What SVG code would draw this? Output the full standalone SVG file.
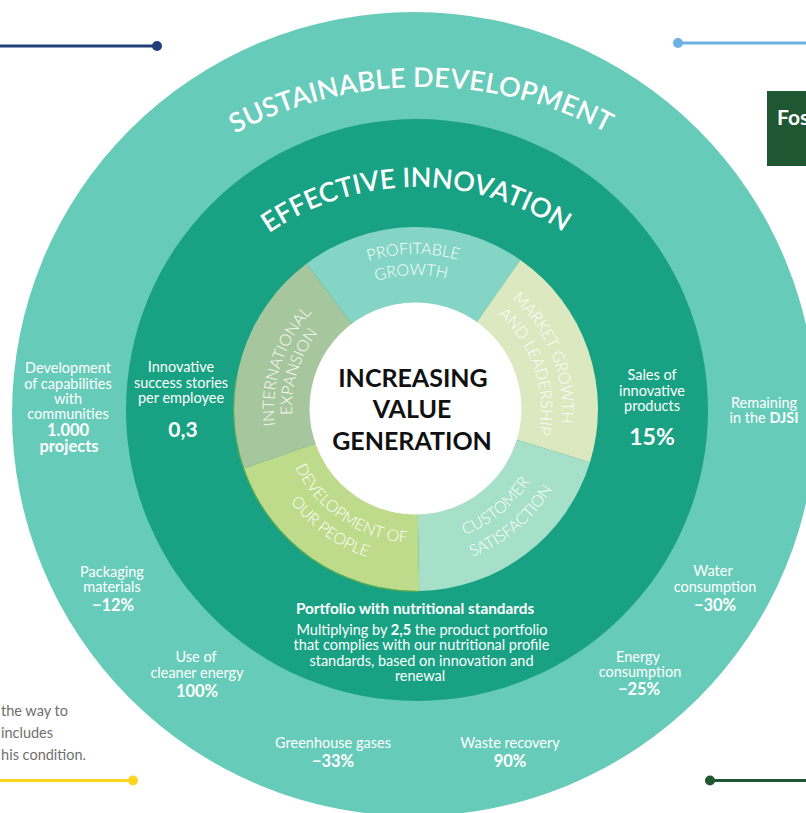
<svg xmlns="http://www.w3.org/2000/svg" width="806" height="813" viewBox="0 0 806 813">
  <style>
    .t { font-family: Lato, "Open Sans", "Liberation Sans", sans-serif; fill: #ffffff; text-anchor: middle; }
    .b { font-size: 14.5px; }
    .num { font-weight: 700; font-size: 16.5px; }
    .big { font-weight: 700; font-size: 21px; }
    .big2 { font-weight: 700; font-size: 23px; }
    .head { font-weight: 700; font-size: 15.3px; }
    .title { font-family: Lato, "Open Sans", sans-serif; fill: #ffffff; font-size: 27px; font-weight: 600; }
    .seg { font-family: Lato, "Open Sans", sans-serif; fill: #ffffff; font-size: 16px; font-weight: 300; }
    .center { font-family: Lato, "Open Sans", sans-serif; fill: #111111; font-size: 25px; font-weight: 700; text-anchor: middle; }
    .gray { font-family: Lato, "Open Sans", sans-serif; fill: #6f6f6f; font-size: 14.5px; }
  </style>
  <defs>
    <path id="arcOuter" d="M117.9,228.8 A397,397 0 0 1 726.1,228.8"/>
    <path id="arcInner" d="M192.7,316.5 A259,259 0 0 1 641.3,316.5"/>
    <path id="pProf" d="M280.4,333.9 A155,155 0 0 1 548.9,329.2"/>
    <path id="pGrowth" d="M297.7,346.1 A134,134 0 0 1 529.6,338.0"/>
    <path id="pMarket" d="M437.1,264.5 A146,146 0 0 1 530.6,499.5"/>
    <path id="pAnd" d="M440.5,286.4 A125,125 0 0 1 509.9,491.5"/>
    <path id="pIntl" d="M310.5,504.0 A142,142 0 0 1 386.5,270.1"/>
    <path id="pExp" d="M324.6,492.8 A124,124 0 0 1 389.2,287.9"/>
    <path id="pCust" d="M368.5,535.4 A135,135 0 0 0 549.2,387.0"/>
    <path id="pSat" d="M362.5,557.7 A158,158 0 0 0 571.5,381.0"/>
    <path id="pDev" d="M282.3,399.6 A134,134 0 0 0 474.7,529.4"/>
    <path id="pOur" d="M260.9,392.7 A156,156 0 0 0 479.4,551.5"/>
  </defs>

  <rect width="806" height="813" fill="#ffffff"/>

  <g id="decor">
    <line x1="0" y1="46" x2="157" y2="46" stroke="#1f3f7a" stroke-width="3"/>
    <circle cx="157" cy="46" r="5" fill="#1f3f7a"/>
    <line x1="678" y1="43" x2="806" y2="43" stroke="#6bb3e3" stroke-width="3"/>
    <circle cx="678" cy="43" r="5" fill="#6bb3e3"/>
    <line x1="0" y1="780.5" x2="133" y2="780.5" stroke="#ffd51f" stroke-width="3"/>
    <circle cx="133" cy="780.5" r="5" fill="#ffd51f"/>
    <line x1="710" y1="780.5" x2="806" y2="780.5" stroke="#1f5733" stroke-width="3"/>
    <circle cx="710" cy="780.5" r="5" fill="#1f5733"/>
  </g>

  <g id="side-note">
    <text class="gray" x="1" y="716">the way to</text>
    <text class="gray" x="1" y="738">includes</text>
    <text class="gray" x="86" y="760" text-anchor="end">his condition.</text>
  </g>

  <g id="sustainable-development">
    <circle cx="414" cy="414" r="402" fill="#67cbb9"/>
    <text class="title" letter-spacing="2"><textPath href="#arcOuter" startOffset="50%" text-anchor="middle" textLength="389" lengthAdjust="spacing">SUSTAINABLE DEVELOPMENT</textPath></text>
  </g>

  <g id="foster-box">
    <rect x="767" y="91" width="39" height="75" fill="#1f5733"/>
    <text x="777" y="125" font-family="Lato, 'Open Sans', sans-serif" font-weight="700" font-size="21" fill="#ffffff">Fos</text>
  </g>

  <g id="effective-innovation">
    <circle cx="417" cy="410" r="291" fill="#18a283"/>
    <text class="title" letter-spacing="2"><textPath href="#arcInner" startOffset="50%" text-anchor="middle" textLength="315" lengthAdjust="spacing">EFFECTIVE INNOVATION</textPath></text>
  </g>

  <g id="segments">
    <g id="seg-profitable">
      <path d="M416,409 L306.5,263.7 A182,182 0 0 1 520.4,259.9 Z" fill="#85d5c6"/>
      <text class="seg"><textPath href="#pProf" startOffset="50%" text-anchor="middle">PROFITABLE</textPath></text>
      <text class="seg"><textPath href="#pGrowth" startOffset="50%" text-anchor="middle">GROWTH</textPath></text>
    </g>
    <g id="seg-market">
      <path d="M416,409 L520.4,259.9 A182,182 0 0 1 590.0,462.2 Z" fill="#dbe8c0"/>
      <text class="seg"><textPath href="#pMarket" startOffset="50%" text-anchor="middle">MARKET GROWTH</textPath></text>
      <text class="seg"><textPath href="#pAnd" startOffset="50%" text-anchor="middle">AND LEADERSHIP</textPath></text>
    </g>
    <g id="seg-customer">
      <path d="M416,409 L590.0,462.2 A182,182 0 0 1 419.2,591.0 Z" fill="#a6e0c9"/>
      <text class="seg"><textPath href="#pCust" startOffset="50%" text-anchor="middle">CUSTOMER</textPath></text>
      <text class="seg"><textPath href="#pSat" startOffset="50%" text-anchor="middle">SATISFACTION</textPath></text>
    </g>
    <g id="seg-development">
      <path d="M416,409 L419.2,591.0 A182,182 0 0 1 243.9,468.3 Z" fill="#bddb8b"/>
      <text class="seg"><textPath href="#pDev" startOffset="50%" text-anchor="middle">DEVELOPMENT OF</textPath></text>
      <text class="seg"><textPath href="#pOur" startOffset="50%" text-anchor="middle">OUR PEOPLE</textPath></text>
    </g>
    <g id="seg-international">
      <path d="M416,409 L243.9,468.3 A182,182 0 0 1 306.5,263.7 Z" fill="#a6c69d"/>
      <text class="seg"><textPath href="#pIntl" startOffset="50%" text-anchor="middle">INTERNATIONAL</textPath></text>
      <text class="seg"><textPath href="#pExp" startOffset="50%" text-anchor="middle">EXPANSION</textPath></text>
    </g>
    <path d="M419.2,591.3 A182.3,182.3 0 0 1 236.3,377.3" fill="none" stroke="#5fae4b" stroke-width="1.3" opacity="0.8"/>
  </g>

  <g id="center">
    <circle cx="415.5" cy="408.5" r="106" fill="#ffffff"/>
    <text class="center" x="413" y="387">INCREASING</text>
    <text class="center" x="412" y="418">VALUE</text>
    <text class="center" x="412" y="450">GENERATION</text>
  </g>

  <g id="kpi-communities">
    <text class="t b" x="68" y="373">Development</text>
    <text class="t b" x="68" y="389">of capabilities</text>
    <text class="t b" x="68" y="404">with</text>
    <text class="t b" x="68" y="419">communities</text>
    <text class="t num" x="68" y="436">1.000</text>
    <text class="t num" x="69" y="452">projects</text>
  </g>

  <g id="kpi-innovative-stories">
    <text class="t b" x="181" y="372">Innovative</text>
    <text class="t b" x="181" y="388">success stories</text>
    <text class="t b" x="181" y="403">per employee</text>
    <text class="t big" x="183" y="437">0,3</text>
  </g>

  <g id="kpi-sales">
    <text class="t b" x="652" y="380">Sales of</text>
    <text class="t b" x="652" y="396">innovative</text>
    <text class="t b" x="652" y="411">products</text>
    <text class="t big2" x="652" y="445">15%</text>
  </g>

  <g id="kpi-djsi">
    <text class="t b" x="764" y="408">Remaining</text>
    <text class="t b" x="764" y="423">in the <tspan font-weight="700">DJSI</tspan></text>
  </g>

  <g id="kpi-packaging">
    <text class="t b" x="112" y="577">Packaging</text>
    <text class="t b" x="112" y="592">materials</text>
    <text class="t num" x="113" y="611">−12%</text>
  </g>

  <g id="kpi-clean-energy">
    <text class="t b" x="196" y="662">Use of</text>
    <text class="t b" x="197" y="678">cleaner energy</text>
    <text class="t num" x="197" y="697">100%</text>
  </g>

  <g id="kpi-ghg">
    <text class="t b" x="333" y="748">Greenhouse gases</text>
    <text class="t num" x="333" y="767">−33%</text>
  </g>

  <g id="kpi-waste">
    <text class="t b" x="510" y="748">Waste recovery</text>
    <text class="t num" x="510" y="767">90%</text>
  </g>

  <g id="kpi-energy">
    <text class="t b" x="638" y="662">Energy</text>
    <text class="t b" x="640" y="677">consumption</text>
    <text class="t num" x="639" y="695">−25%</text>
  </g>

  <g id="kpi-water">
    <text class="t b" x="713" y="576">Water</text>
    <text class="t b" x="715" y="592">consumption</text>
    <text class="t num" x="715" y="611">−30%</text>
  </g>

  <g id="kpi-portfolio">
    <text class="t head" x="415" y="614">Portfolio with nutritional standards</text>
    <text class="t b" x="422" y="635">Multiplying by <tspan font-weight="700">2,5</tspan> the product portfolio</text>
    <text class="t b" x="421.5" y="650">that complies with our nutritional profile</text>
    <text class="t b" x="421.5" y="666">standards, based on innovation and</text>
    <text class="t b" x="420" y="681">renewal</text>
  </g>

  <g id="connectors"></g>
</svg>
